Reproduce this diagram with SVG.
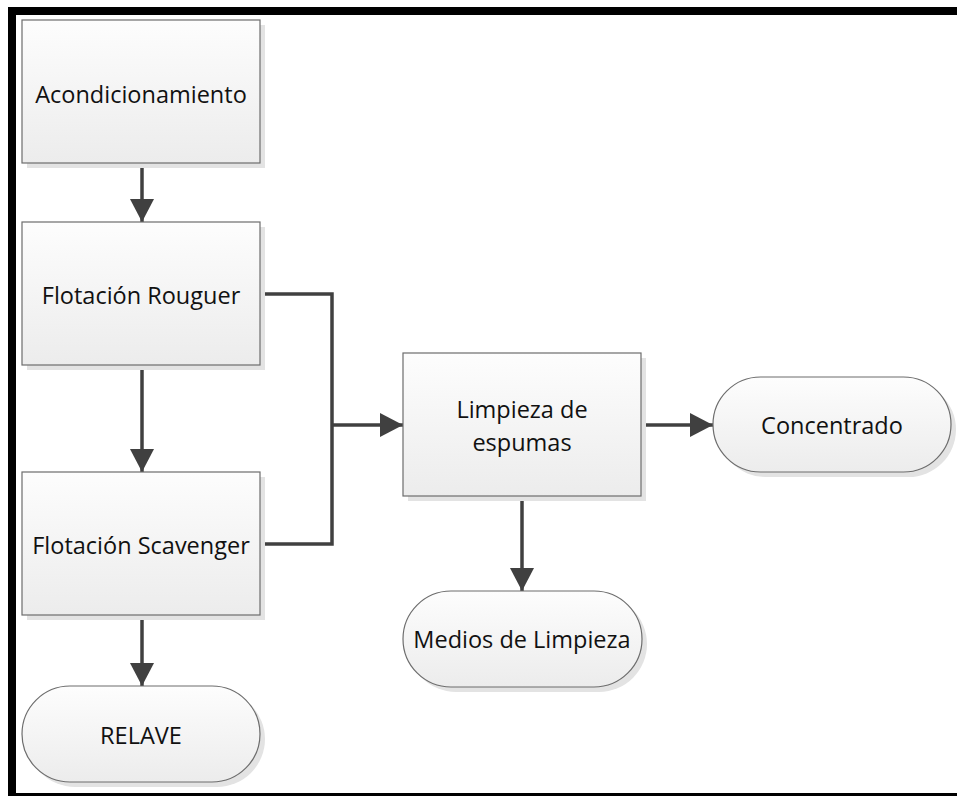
<svg xmlns="http://www.w3.org/2000/svg" width="957" height="796" viewBox="0 0 957 796">
<style>
.box{fill:url(#g);stroke:#6d6d6d;stroke-width:1.2}
.sh{fill:#e3e3e3}
.t{font-family:"Open Sans","Noto Sans",sans-serif;font-size:23.5px;fill:#111;text-anchor:middle;dominant-baseline:central}
.c{fill:none;stroke:#404040;stroke-width:3.5}
</style>
<defs>
<linearGradient id="g" x1="0" y1="0" x2="0" y2="1">
<stop offset="0" stop-color="#fdfdfd"/>
<stop offset="1" stop-color="#ececec"/>
</linearGradient>
<marker id="a" markerUnits="userSpaceOnUse" markerWidth="24" markerHeight="24" refX="23" refY="12" orient="auto">
<path d="M0,0 L23,12 L0,24 Z" fill="#404040"/>
</marker>
</defs>
<rect width="957" height="796" fill="#fff"/>
<g id="frame">
<rect x="8" y="7" width="949" height="8" fill="#000"/>
<rect x="8" y="7" width="8" height="789" fill="#000"/>
<rect x="8" y="793" width="949" height="3" fill="#000"/>
</g>
<g id="connectors">
<path class="c" d="M142,163 V222" marker-end="url(#a)"/>
<path class="c" d="M142,365 V472" marker-end="url(#a)"/>
<path class="c" d="M142,615 V686" marker-end="url(#a)"/>
<path class="c" d="M260,294 H332 V544 H260"/>
<path class="c" d="M332,425 H403" marker-end="url(#a)"/>
<path class="c" d="M641,425 H713" marker-end="url(#a)"/>
<path class="c" d="M522,496 V591" marker-end="url(#a)"/>
</g>
<g id="acondicionamiento">
<rect class="sh" x="27" y="25" width="238" height="143"/>
<rect class="box" x="22" y="20" width="238" height="143"/>
<text class="t" x="141" y="94">Acondicionamiento</text>
</g>
<g id="rouguer">
<rect class="sh" x="27" y="227" width="238" height="143"/>
<rect class="box" x="22" y="222" width="238" height="143"/>
<text class="t" x="141" y="295">Flotación Rouguer</text>
</g>
<g id="scavenger">
<rect class="sh" x="27" y="477" width="238" height="143"/>
<rect class="box" x="22" y="472" width="238" height="143"/>
<text class="t" x="141" y="545">Flotación Scavenger</text>
</g>
<g id="relave">
<rect class="sh" x="27" y="691" width="238" height="96" rx="48"/>
<rect class="box" x="22" y="686" width="238" height="96" rx="48"/>
<text class="t" x="141" y="735">RELAVE</text>
</g>
<g id="limpieza">
<rect class="sh" x="408" y="358" width="238" height="143"/>
<rect class="box" x="403" y="353" width="238" height="143"/>
<text class="t" x="522" y="409">Limpieza de</text>
<text class="t" x="522" y="442">espumas</text>
</g>
<g id="concentrado">
<rect class="sh" x="718" y="382" width="238" height="95" rx="47.5"/>
<rect class="box" x="713" y="377" width="238" height="95" rx="47.5"/>
<text class="t" x="832" y="425">Concentrado</text>
</g>
<g id="medios">
<rect class="sh" x="408" y="596" width="239" height="96" rx="48"/>
<rect class="box" x="403" y="591" width="239" height="96" rx="48"/>
<text class="t" x="522" y="639">Medios de Limpieza</text>
</g>
</svg>
